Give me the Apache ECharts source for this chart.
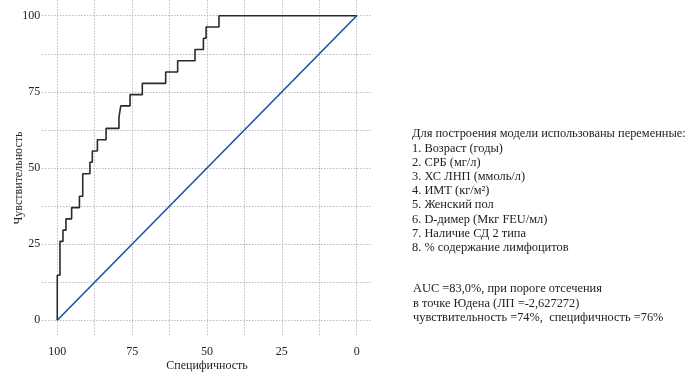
<!DOCTYPE html>
<html>
<head>
<meta charset="utf-8">
<script src="https://cdn.jsdelivr.net/npm/echarts@6/dist/echarts.min.js"></script>
<style>
  html, body { margin: 0; padding: 0; background: #fff; }
  #chart { width: 691px; height: 376px; }
</style>
</head>
<body>
<div id="chart"></div>
<script>
// ROC curve corners (specificity %, sensitivity %), drawn with step: 'end'
const specificity = [100, 100, 99.1, 98.1, 97.1, 95.2, 92.6, 91.5, 89.1, 88.3, 86.6, 83.7, 79.4, 78.8, 75.7, 71.6, 63.8, 59.8, 54.0, 51.2, 50.3, 46.0, 0];
const sensitivity = [0, 14.8, 25.9, 29.6, 33.3, 37.0, 40.7, 48.1, 51.9, 55.6, 59.3, 63.0, 66.7, 70.4, 74.1, 77.8, 81.5, 85.2, 88.9, 92.6, 96.3, 100, 100];

// chance line
const refSpecificity = [100, 0];
const refSensitivity = [0, 100];

const gridValues = [0, 12.5, 25, 37.5, 50, 62.5, 75, 87.5, 100];
const labelValues = [0, 25, 50, 75, 100];

const noteLines = [
  'Для построения модели использованы переменные:',
  '1. Возраст (годы)',
  '2. СРБ (мг/л)',
  '3. ХС ЛНП (ммоль/л)',
  '4. ИМТ (кг/м²)',
  '5. Женский пол',
  '6. D-димер (Мкг FEU/мл)',
  '7. Наличие СД 2 типа',
  '8. % содержание лимфоцитов'
];
const aucLines = [
  'AUC =83,0%, при пороге отсечения',
  'в точке Юдена (ЛП =-2,627272)',
  'чувствительность =74%,  специфичность =76%'
];

const FONT = '"Liberation Serif", "Times New Roman", serif';

const splitStyle = {
  show: true,
  lineStyle: { color: '#9a9a9a', width: 1, type: [1, 2] }
};

const chart = echarts.init(document.getElementById('chart'));

chart.setOption({
  animation: false,
  backgroundColor: '#fff',
  grid: {
    left: 42.3,
    top: 0.5,
    width: 329.4,
    height: 335,
    outerBoundsMode: 'none'
  },
  xAxis: {
    type: 'value',
    inverse: true,
    min: -5,
    max: 105,
    name: 'Специфичность',
    nameLocation: 'middle',
    nameGap: 24,
    nameMoveOverlap: false,
    nameTextStyle: { fontFamily: FONT, fontSize: 12, color: '#222' },
    axisLine: { show: false },
    axisTick: { show: false, customValues: gridValues },
    axisLabel: {
      customValues: labelValues,
      margin: 10,
      fontFamily: FONT,
      fontSize: 12,
      color: '#222'
    },
    splitLine: splitStyle
  },
  yAxis: {
    type: 'value',
    min: -5,
    max: 105,
    name: 'Чувствительность',
    nameLocation: 'middle',
    nameGap: 17,
    nameMoveOverlap: false,
    // push the rotated name ~10px down, as in the source figure
    nameTextStyle: { fontFamily: FONT, fontSize: 12, color: '#222', padding: [0, 20, 0, 0] },
    axisLine: { show: false },
    axisTick: { show: false, customValues: gridValues },
    axisLabel: {
      customValues: labelValues,
      margin: 2,
      padding: [3, 0, 0, 0],
      fontFamily: FONT,
      fontSize: 12,
      color: '#222'
    },
    splitLine: splitStyle
  },
  series: [
    {
      type: 'line',
      data: refSpecificity.map((s, i) => [s, refSensitivity[i]]),
      showSymbol: false,
      silent: true,
      lineStyle: { color: '#1c4fb0', width: 1.6 },
      z: 2
    },
    {
      type: 'line',
      step: 'end',
      data: specificity.map((s, i) => [s, sensitivity[i]]),
      showSymbol: false,
      silent: true,
      lineStyle: { color: '#2a2a2a', width: 1.6 },
      z: 3
    }
  ],
  graphic: [
    {
      type: 'text',
      left: 412,
      top: 127,
      style: {
        text: noteLines.join('\n'),
        font: '12.4px ' + FONT,
        lineHeight: 14.2,
        fill: '#222'
      }
    },
    {
      type: 'text',
      left: 413,
      top: 282,
      style: {
        text: aucLines.join('\n'),
        font: '12.4px ' + FONT,
        lineHeight: 14.2,
        fill: '#222'
      }
    }
  ]
});
</script>
</body>
</html>
